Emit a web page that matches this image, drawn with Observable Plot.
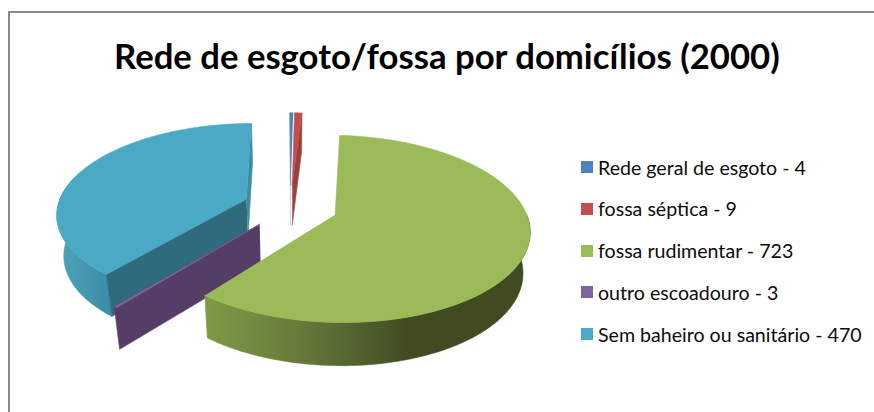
<!DOCTYPE html>
<html lang="pt">
<head>
<meta charset="utf-8">
<script src="https://cdn.jsdelivr.net/npm/d3@7"></script>
<script src="https://cdn.jsdelivr.net/npm/@observablehq/plot@0.6"></script>
<style>
  html, body { margin: 0; padding: 0; background: #fff; }
  #page { position: relative; width: 874px; height: 412px; overflow: hidden; font-family: Lato, "Open Sans", sans-serif; color: #0c0c0c; }
  #frame { position: absolute; left: 8px; top: 11px; right: -4px; bottom: -4px; border: 2px solid #8a8a8a; }
  #chart { position: absolute; left: 0; top: 0; }
  #title { position: absolute; left: 114px; top: 34px; font-size: 34.7px; line-height: 44px; font-weight: 700; white-space: nowrap; color: #000; }
  #legend { position: absolute; left: 581px; top: 146px; }
  .row { position: absolute; left: 0; height: 42px; display: flex; align-items: center; white-space: nowrap; font-size: 19.6px; }
  .swatch { width: 12px; height: 12px; margin-right: 5px; flex: none; }
</style>
</head>
<body>
<div id="page">
  <div id="frame"></div>
  <div id="chart"></div>
  <div id="title">Rede de esgoto/fossa por domicílios (2000)</div>
  <div id="legend"></div>
</div>
<script>
// Domicílios por tipo de esgotamento sanitário, 2000
const categories = ["Rede geral de esgoto", "fossa séptica", "fossa rudimentar", "outro escoadouro", "Sem baheiro ou sanitário"];
const values = [4, 9, 723, 3, 470];
const topColors = ["#4f81bd", "#c0504d", "#9bbb59", "#8064a2", "#4aa9c4"];

// Pie layout, clockwise from twelve o'clock
const deg = Math.PI / 180;
const slices = d3.pie().sort(null).startAngle(-0.3 * deg).endAngle(359.7 * deg)(values);

// A small perspective camera over a unit-radius disc that has been pulled apart
const explode = 0.25, perspective = 0.15, taper = 0.03;
const centerX = 290, centerY = 206, radiusX = 189, radiusY = 89;

function project([u, v], drop = 0) {
  const s = 1 / (1 + perspective * v);
  const depth = (27 + 13.5 * s) / radiusY;
  return {x: u * s * (1 - taper * drop), y: v * s - drop * depth};
}
function offset(d) {
  const mid = (d.startAngle + d.endAngle) / 2;
  return [explode * Math.sin(mid), explode * Math.cos(mid)];
}
function rimPoint(d, a) {
  const [ou, ov] = offset(d);
  return [ou + Math.sin(a), ov + Math.cos(a)];
}
function arcAngles(a0, a1) {
  const n = Math.max(2, Math.ceil(Math.abs(a1 - a0) / deg));
  return d3.range(n + 1).map(i => a0 + (a1 - a0) * i / n);
}

// The flat top of a slice
function topFace(d) {
  return [offset(d), ...arcAngles(d.startAngle, d.endAngle).map(a => rimPoint(d, a))].map(p => project(p));
}
// The curved outer wall between two angles
function outerWall(d, a0, a1) {
  const arc = arcAngles(a0, a1).map(a => rimPoint(d, a));
  return [...arc.map(p => project(p)), ...arc.reverse().map(p => project(p, 1))];
}
// The flat radial cut at a given angle
function cutFace(d, a) {
  const apex = offset(d), rim = rimPoint(d, a);
  return [project(apex), project(rim), project(rim, 1), project(apex, 1)];
}

const [blue, red, green, purple, teal] = slices;
const face = (points, fill) => Plot.line(points, {x: "x", y: "y", fill, stroke: fill, strokeWidth: 0.6, curve: "linear"});

// Gradients for the shaded outer walls
function gradient(id, stops) {
  const g = d3.create("svg:linearGradient").attr("id", id).attr("x1", 0).attr("x2", 1).attr("y1", 0).attr("y2", 0);
  for (const [o, c] of stops) g.append("stop").attr("offset", o).attr("stop-color", c);
  return g.node();
}
const defs = () => {
  const d = d3.create("svg:defs");
  d.append(() => gradient("wallGreen", [[0, "#7f9a47"], [0.3, "#66793a"], [0.63, "#404b22"], [1, "#404b22"]]));
  d.append(() => gradient("wallTeal", [[0, "#4fa3bb"], [1, "#3a8ca4"]]));
  return d.node();
};

const chart = Plot.plot({
  width: 874,
  height: 412,
  margin: 0,
  style: {background: "transparent"},
  x: {axis: null, domain: [-centerX / radiusX, (874 - centerX) / radiusX], range: [0, 874]},
  y: {axis: null, domain: [centerY / radiusY, (centerY - 412) / radiusY], range: [0, 412]},
  marks: [
    defs,
    // Sem banheiro: back slice on the left
    face(outerWall(teal, teal.startAngle, 285 * deg), "url(#wallTeal)"),
    face(cutFace(teal, teal.endAngle), "#3f8da4"),
    face(cutFace(teal, teal.startAngle), "#2f6b7c"),
    face(topFace(teal), topColors[4]),
    // Outro escoadouro: thin sliver seen by its cut
    face(cutFace(purple, purple.endAngle), "#553e66"),
    face(topFace(purple), topColors[3]),
    // Fossa rudimentar: the large slice in front
    face(outerWall(green, 90 * deg, green.endAngle), "url(#wallGreen)"),
    face(topFace(green), topColors[2]),
    // Rede geral and fossa séptica: two needles at the back
    face(cutFace(blue, blue.startAngle), "#a9c0dd"),
    face(topFace(blue), topColors[0]),
    face(cutFace(red, red.endAngle), "#9c3f3c"),
    face(topFace(red), topColors[1])
  ]
});
document.getElementById("chart").append(chart);

// Legend built from the same series
const legend = d3.select("#legend");
categories.forEach((name, i) => {
  const row = legend.append("div").attr("class", "row").style("top", `${i * 41.75}px`);
  row.append("div").attr("class", "swatch").style("background", topColors[i]);
  row.append("span").text(`${name} - ${values[i]}`);
});
</script>
</body>
</html>
